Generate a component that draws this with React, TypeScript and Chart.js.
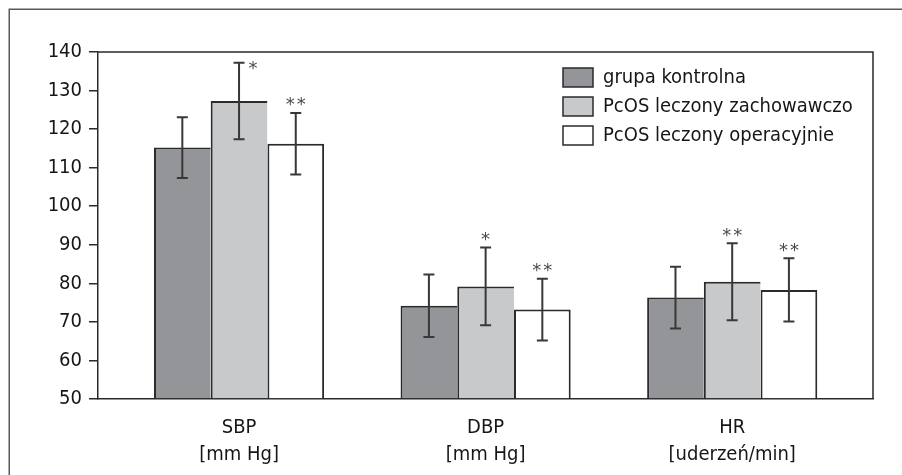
import React, { useEffect, useRef } from "react";
import { Chart, registerables } from "chart.js";

Chart.register(...registerables);

// ---- data ----
const categories: string[][] = [
  ["SBP", "[mm Hg]"],
  ["DBP", "[mm Hg]"],
  ["HR", "[uderzeń/min]"],
];
const seriesNames = ["grupa kontrolna", "PcOS leczony zachowawczo", "PcOS leczony operacyjnie"];
const controlMeans = [115.2, 74.2, 76.3];
const controlSD = [7.9, 8.1, 8.0];
const conservativeMeans = [127.3, 79.2, 80.4];
const conservativeSD = [9.9, 10.1, 10.0];
const surgicalMeans = [116.2, 73.2, 78.3];
const surgicalSD = [8.0, 8.0, 8.2];
const controlMarks = ["", "", ""];
const conservativeMarks = ["*", "*", "**"];
const surgicalMarks = ["**", "**", "**"];
const yMin = 50;
const yMax = 140;
const yStep = 10;

const FONT = "'DejaVu Sans Condensed', 'DejaVu Sans', sans-serif";
const EDGE = "#2a2a2a";
const TEXT = "#161616";

export default function App() {
  const ref = useRef<HTMLCanvasElement>(null);

  useEffect(() => {
    const canvas = ref.current;
    if (!canvas) return;
    const means = [controlMeans, conservativeMeans, surgicalMeans];
    const sds = [controlSD, conservativeSD, surgicalSD];
    const marks = [controlMarks, conservativeMarks, surgicalMarks];
    const fills = ["#939598", "#c8c9cb", "#ffffff"];
    const borderWidths = [
      { top: 2, left: 2, right: 0, bottom: 0 },
      { top: 2, left: 2, right: 0, bottom: 0 },
      { top: 2, left: 2, right: 2, bottom: 0 },
    ];

    const framePlugin = {
      id: "frame",
      beforeDraw(chart: any) {
        const ctx = chart.ctx;
        ctx.save();
        ctx.fillStyle = "#ffffff";
        ctx.fillRect(0, 0, chart.width, chart.height);
        ctx.strokeStyle = "#5a5a5a";
        ctx.lineWidth = 1.5;
        ctx.beginPath();
        ctx.moveTo(9.25, chart.height);
        ctx.lineTo(9.25, 9.25);
        ctx.lineTo(chart.width, 9.25);
        ctx.stroke();
        ctx.restore();
      },
      afterLayout(chart: any) {
        const lg = chart.legend;
        const ca = chart.chartArea;
        if (lg) {
          lg.left = ca.right - 319;
          lg.top = ca.top + 6.5;
          lg.right = chart.width;
          lg.bottom = chart.height;
        }
      },
      afterDraw(chart: any) {
        const ctx = chart.ctx;
        const ca = chart.chartArea;
        ctx.save();
        ctx.strokeStyle = EDGE;
        ctx.lineWidth = 1.5;
        ctx.beginPath();
        ctx.moveTo(ca.left, ca.top);
        ctx.lineTo(ca.right, ca.top);
        ctx.lineTo(ca.right, ca.bottom);
        ctx.stroke();
        ctx.restore();
      },
    };

    const errorPlugin = {
      id: "errorBars",
      afterDatasetsDraw(chart: any) {
        const ctx = chart.ctx;
        const ys = chart.scales.y;
        ctx.save();
        means.forEach((m, d) => {
          const meta = chart.getDatasetMeta(d);
          meta.data.forEach((bar: any, i: number) => {
            const x = bar.x;
            const top = ys.getPixelForValue(m[i] + sds[d][i]);
            const bot = ys.getPixelForValue(m[i] - sds[d][i]);
            ctx.strokeStyle = "#383838";
            ctx.lineWidth = 2;
            ctx.beginPath();
            ctx.moveTo(x, top);
            ctx.lineTo(x, bot);
            ctx.moveTo(x - 5.5, top);
            ctx.lineTo(x + 5.5, top);
            ctx.moveTo(x - 5.5, bot);
            ctx.lineTo(x + 5.5, bot);
            ctx.stroke();
            const mk = marks[d][i];
            if (mk) {
              const side = d === 1 && i === 0;
              const cx = side ? x + 14 : x;
              const cy = side ? top + 0.5 : top - 13;
              ctx.fillStyle = "#4a4a4a";
              ctx.font = "18px 'DejaVu Sans', sans-serif";
              ctx.textAlign = "center";
              ctx.textBaseline = "alphabetic";
              const n = mk.length;
              for (let k = 0; k < n; k++) {
                const px = cx + (k - (n - 1) / 2) * 11;
                ctx.fillText(mk[k], px, cy + 10.5);
              }
            }
          });
        });
        ctx.restore();
      },
    };

    const chart = new Chart(canvas, {
      type: "bar",
      data: {
        datasets: seriesNames.map((name, d) => ({
          label: name,
          data: means[d].map((v, i) => ({ x: i, y: v })),
          backgroundColor: fills[d],
          borderColor: EDGE,
          borderWidth: borderWidths[d],
          borderSkipped: "bottom",
          base: yMin,
          categoryPercentage: 0.69,
          barPercentage: 1,
        })),
      },
      options: {
        animation: false,
        responsive: false,
        maintainAspectRatio: false,
        devicePixelRatio: 1,
        layout: { padding: { top: 52, right: 29, bottom: 0, left: 0 } },
        plugins: {
          tooltip: { enabled: false },
          legend: {
            position: "chartArea",
            align: "start",
            labels: {
              boxWidth: 30,
              boxHeight: 19,
              padding: 9,
              color: TEXT,
              font: { family: FONT, size: 20 },
              generateLabels(ch: any) {
                const items = (Chart as any).defaults.plugins.legend.labels.generateLabels(ch);
                items.forEach((it: any) => {
                  it.lineWidth = 1.5;
                  it.strokeStyle = EDGE;
                });
                return items;
              },
            },
          },
        },
        scales: {
          x: {
            type: "linear",
            position: "bottom",
            offset: false,
            min: -0.572,
            max: 2.571,
            afterBuildTicks(scale: any) {
              scale.ticks = categories.map((_, i) => ({ value: i }));
            },
            afterFit(scale: any) {
              scale.height = 76;
            },
            grid: { display: false, offset: false },
            border: { display: true, color: EDGE, width: 1.5 },
            ticks: {
              autoSkip: false,
              maxRotation: 0,
              padding: 8,
              color: TEXT,
              font: { family: FONT, size: 20, lineHeight: 1.325 },
              callback: (v: any) => categories[Math.round(Number(v))] ?? "",
            },
          },
          y: {
            type: "linear",
            min: yMin,
            max: yMax,
            afterFit(scale: any) {
              scale.width = 98;
            },
            grid: {
              drawOnChartArea: false,
              drawTicks: true,
              tickLength: 9,
              color: EDGE,
              lineWidth: 1.5,
            },
            border: { display: true, color: EDGE, width: 1.5 },
            ticks: {
              stepSize: yStep,
              padding: 7,
              color: TEXT,
              font: { family: FONT, size: 20 },
            },
          },
        },
      } as any,
      plugins: [framePlugin, errorPlugin],
    });

    return () => chart.destroy();
  }, []);

  return (
    <canvas
      ref={ref}
      width={902}
      height={475}
      style={{ position: "fixed", left: 0, top: 0, width: 902, height: 475 }}
    />
  );
}
